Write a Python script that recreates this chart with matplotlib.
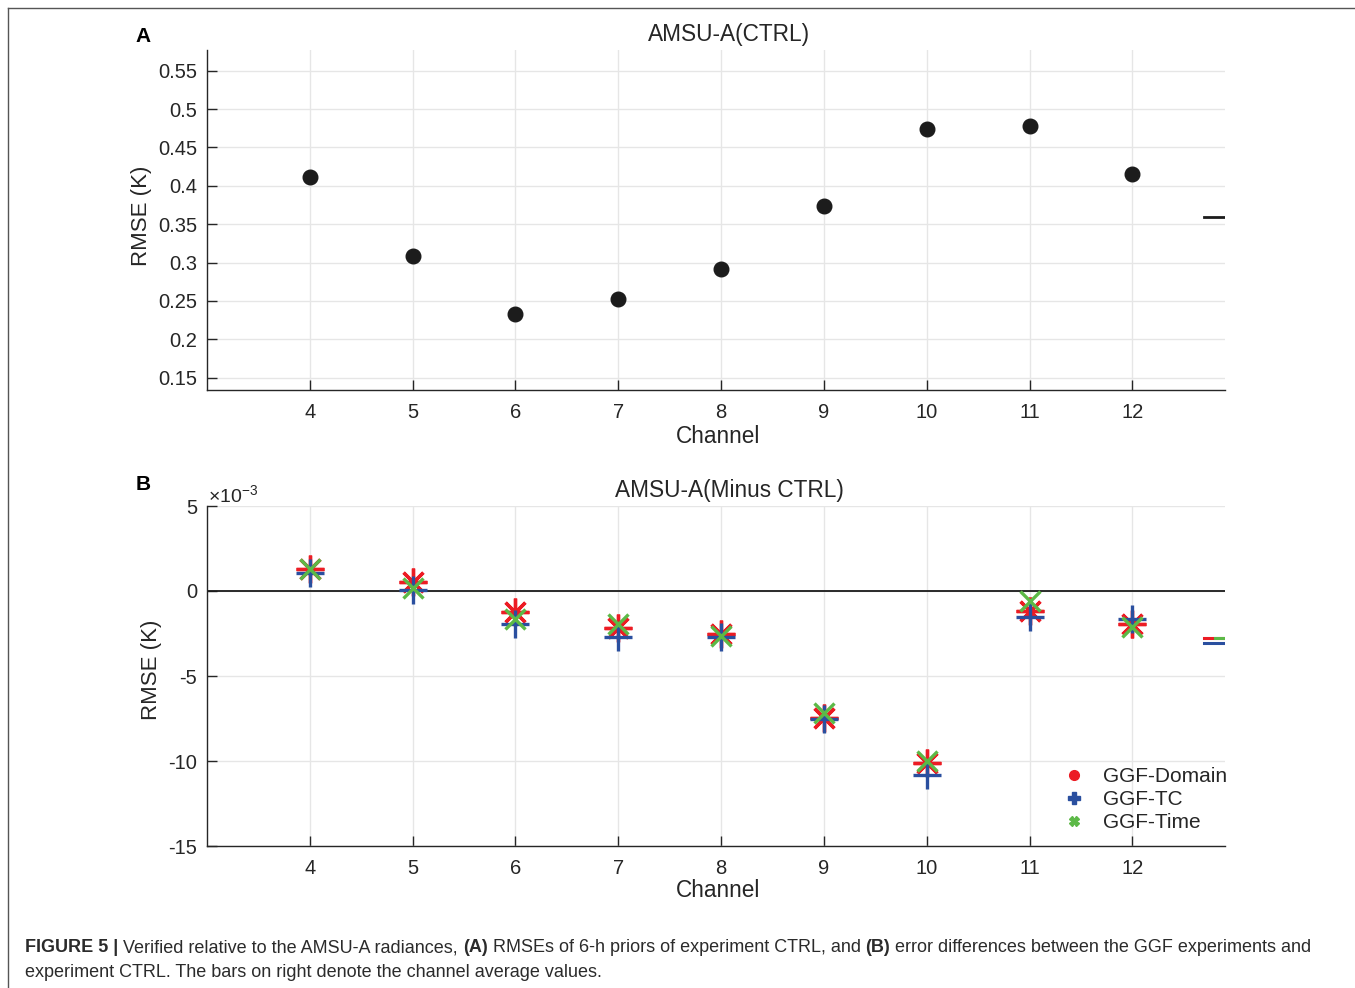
import numpy as np
import matplotlib
matplotlib.use('Agg')
import matplotlib.pyplot as plt
from matplotlib.lines import Line2D
from matplotlib.ticker import FuncFormatter

plt.rcParams['font.family'] = ['Liberation Sans', 'DejaVu Sans']
plt.rcParams['mathtext.fontset'] = 'custom'
plt.rcParams['mathtext.rm'] = 'Liberation Sans'
plt.rcParams['mathtext.it'] = 'Liberation Sans:italic'
plt.rcParams['mathtext.bf'] = 'Liberation Sans:bold'
plt.rcParams['axes.unicode_minus'] = False

# data
channels = [4, 5, 6, 7, 8, 9, 10, 11, 12]
rmse_ctrl = [0.411, 0.308, 0.233, 0.253, 0.292, 0.374, 0.474, 0.478, 0.415]
# differences to CTRL, in units of 1e-3 K
diff_domain = [1.29, 0.55, -1.22, -2.16, -2.53, -7.49, -10.14, -1.18, -1.94]
diff_tc = [1.04, 0.06, -1.94, -2.69, -2.69, -7.55, -10.82, -1.55, -1.63]
diff_time = [1.28, 0.16, -1.67, -1.96, -2.65, -7.20, -9.98, -0.57, -2.10]
series_names = ['GGF-Domain', 'GGF-TC', 'GGF-Time']

RED = '#ec1c24'
BLUE = '#2a4f9f'
GREEN = '#5cb947'
INK = '#262626'
BAR_X = (12.7, 12.9)    # where the channel average bars sit

W, H = 1355, 988
fx = lambda px: px / W
fy = lambda py: 1 - py / H

fig = plt.figure(figsize=(W / 100, H / 100), dpi=100)
axA = fig.add_axes([fx(207), fy(390), fx(1225) - fx(207), fy(50) - fy(390)])
axB = fig.add_axes([fx(207), fy(846), fx(1225) - fx(207), fy(506) - fy(846)])


def style(ax):
    for s in ['top', 'right']:
        ax.spines[s].set_visible(False)
    for s in ['left', 'bottom']:
        ax.spines[s].set_color(INK)
        ax.spines[s].set_linewidth(1)
    ax.tick_params(direction='in', length=7, width=1, color=INK,
                   labelsize=14.5, labelcolor=INK)
    ax.tick_params(axis='x', pad=9)
    ax.tick_params(axis='y', pad=7)
    ax.grid(True, color='#e6e6e6', lw=1)
    ax.set_axisbelow(True)
    ax.set_xticks(channels)
    ax.set_xlim(3, 12.9)


# ---- panel A
style(axA)
axA.plot(channels, rmse_ctrl, 'o', ms=10.5, color='#1c1c1c', zorder=3)
axA.plot(BAR_X, [np.mean(rmse_ctrl)] * 2, color='#1c1c1c', lw=2, zorder=3)
axA.set_ylim(0.134, 0.577)
axA.set_yticks(np.arange(0.15, 0.551, 0.05))
axA.yaxis.set_major_formatter(FuncFormatter(lambda v, p: f'{v:g}'))

# ---- panel B
style(axB)
axB.axhline(0, color='#1a1a1a', lw=1.3, zorder=2)
axB.plot(channels, diff_domain, ls='none', marker=(8, 2, 0), ms=20, mew=2.4,
         color=RED, zorder=3)
axB.plot(channels, diff_tc, ls='none', marker='+', ms=20, mew=2.4,
         color=BLUE, zorder=4)
axB.plot(channels, diff_time, ls='none', marker='x', ms=15, mew=2.4,
         color=GREEN, zorder=5)
mid = np.mean(BAR_X)
axB.plot(BAR_X, [np.mean(diff_domain)] * 2, color=RED, lw=2.2, zorder=3)
axB.plot((mid, BAR_X[1]), [np.mean(diff_time)] * 2, color=GREEN, lw=2.2, zorder=4)
axB.plot(BAR_X, [np.mean(diff_tc)] * 2, color=BLUE, lw=2.2, zorder=3)
axB.set_ylim(-15, 5)
axB.set_yticks([-15, -10, -5, 0, 5])

handles = [Line2D([], [], ls='none', marker='o', ms=7, color=RED),
           Line2D([], [], ls='none', marker='P', ms=8, color=BLUE),
           Line2D([], [], ls='none', marker='X', ms=7, color=GREEN)]
axB.legend(handles, series_names, loc='upper left',
           bbox_to_anchor=(fx(1064), fy(767)), bbox_transform=fig.transFigure,
           frameon=False, fontsize=15, handlelength=1.0, handletextpad=0.85,
           labelspacing=0.2, borderpad=0, borderaxespad=0, labelcolor=INK)

# ---- titles, labels
fig.text(fx(729), fy(34), 'AMSU-A(CTRL)', fontsize=16.3, ha='center', va='center', color=INK)
fig.text(fx(729), fy(490), 'AMSU-A(Minus CTRL)', fontsize=16.3, ha='center', va='center', color=INK)
fig.text(fx(718), fy(436), 'Channel', fontsize=16.3, ha='center', va='center', color=INK)
fig.text(fx(718), fy(890), 'Channel', fontsize=16.3, ha='center', va='center', color=INK)
fig.text(fx(142), fy(216), 'RMSE (K)', fontsize=16, rotation=90, ha='center', va='center', color=INK)
fig.text(fx(152), fy(670), 'RMSE (K)', fontsize=16, rotation=90, ha='center', va='center', color=INK)
fig.text(fx(208), fy(502), '×10$^{-3}$', fontsize=14, ha='left', va='baseline', color=INK)
fig.text(fx(143), fy(37), 'A', fontsize=15, fontweight='bold', ha='center', va='center')
fig.text(fx(143), fy(484), 'B', fontsize=15, fontweight='bold', ha='center', va='center')

# ---- frame around figure + caption
fig.add_artist(Line2D([fx(8), 1], [fy(8), fy(8)], color='#555555', lw=1))
fig.add_artist(Line2D([fx(8), fx(8)], [fy(8), 0], color='#555555', lw=1))

# ---- caption, with bold parts
line1 = [('FIGURE 5 |', 'bold'), ('Verified relative to the AMSU-A radiances,', 'normal'),
         ('(A)', 'bold'), ('RMSEs of 6-h priors of experiment CTRL, and', 'normal'),
         ('(B)', 'bold'), ('error differences between the GGF experiments and', 'normal')]
line2 = [('experiment CTRL. The bars on right denote the channel average values.', 'normal')]

renderer = fig.canvas.get_renderer()


def text_width(s, size, weight):
    t = fig.text(0, 0, s, fontsize=size, fontweight=weight)
    w = t.get_window_extent(renderer).width
    t.remove()
    return w


def line_width(parts, size):
    sp = text_width('x x', size, 'normal') - text_width('xx', size, 'normal')
    return sum(text_width(s, size, w) for s, w in parts) + sp * (len(parts) - 1)


def draw_line(parts, x0, ybase, size):
    sp = text_width('x x', size, 'normal') - text_width('xx', size, 'normal')
    x = x0
    for s, w in parts:
        fig.text(fx(x), fy(ybase), s, fontsize=size, fontweight=w,
                 va='baseline', ha='left', color='#2b2b2b')
        x += text_width(s, size, w) + sp


cap_size = 12 * (1313 - 25) / line_width(line1, 12)
draw_line(line1, 25, 952, cap_size)
draw_line(line2, 25, 977, cap_size)

fig.savefig('out.png', dpi=100)
